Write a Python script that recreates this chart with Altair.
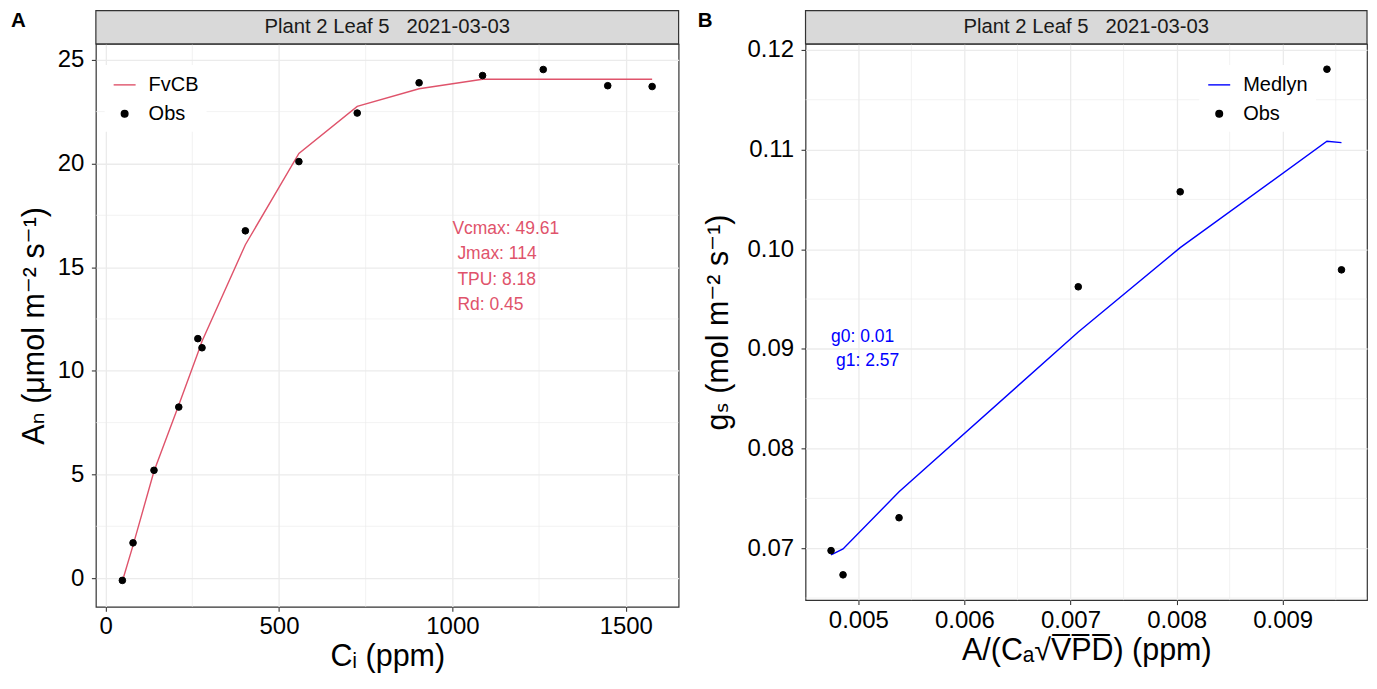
import altair as alt
import pandas as pd

# ---------------- data ----------------
strip_label = ["Plant 2 Leaf 5\u00a0\u00a0\u00a02021-03-03"]
panel_tags = ["A", "B"]

# Panel A: A/Ci curve
ci_ppm = [48.3, 79.1, 139.5, 211, 266, 278, 403, 557.4, 725.6, 904, 1087, 1262, 1448, 1576]
an_obs = [-0.11, 1.70, 5.20, 8.25, 11.55, 11.11, 16.75, 20.09, 22.43, 23.89, 24.24, 24.53, 23.75, 23.71]
an_fvcb = [-0.15, 1.58, 5.15, 8.35, 10.86, 11.42, 16.08, 20.48, 22.75, 23.60, 24.06, 24.06, 24.06, 24.06]
fvcb_params = ["Vcmax: 49.61", "Jmax: 114", "TPU: 8.18", "Rd: 0.45"]
fvcb_anchor = [1000, 15]

# Panel B: Medlyn stomatal conductance
medlyn_x = [0.004743, 0.004856, 0.005384, 0.007073, 0.008034, 0.009417, 0.009554]
gs_obs = [0.06976, 0.06733, 0.07306, 0.09623, 0.10576, 0.11806, 0.09793]
gs_medlyn = [0.06933, 0.06993, 0.07566, 0.0917, 0.10016, 0.11083, 0.1107]
medlyn_params = ["g0: 0.01", "g1: 2.57"]
medlyn_anchor = [min(medlyn_x), 0.09]

a_xticks = [0, 500, 1000, 1500]
a_xminor = [250, 750, 1250]
a_yticks = [0, 5, 10, 15, 20, 25]
a_yminor = [2.5, 7.5, 12.5, 17.5, 22.5]
b_xticks = [0.005, 0.006, 0.007, 0.008, 0.009]
b_xminor = [0.0055, 0.0065, 0.0075, 0.0085, 0.0095]
b_yticks = [0.07, 0.08, 0.09, 0.10, 0.11, 0.12]
b_yminor = [0.065, 0.075, 0.085, 0.095, 0.105, 0.115]

FONT = "Liberation Sans, DejaVu Sans"
FVCB_COL = "#DF536B"
MEDLYN_COL = "#0000FF"
GRID = "#EBEBEB"
DARK = "#333333"
STRIP_H = 33.3


def expand(vals):
    lo, hi = min(vals), max(vals)
    r = hi - lo
    return [lo - 0.05 * r, hi + 0.05 * r]


def panel(xs, yobs, yfit, model, col, xticks, yticks, xminor, yminor,
          xfmt, yfmt, xtitle, ytitle, ytitle_pad, ann_text, ann_xy, ann_lh,
          leg_x, leg_y, width, height, tag, tag_x):
    xdom = expand(xs)
    ydom = expand(list(yobs) + list(yfit))
    xsc = alt.Scale(domain=xdom, nice=False, zero=False)
    ysc = alt.Scale(domain=ydom, nice=False, zero=False)
    xenc = alt.X("x:Q", scale=xsc,
                 axis=alt.Axis(values=xticks, format=xfmt, title=xtitle,
                               labelPadding=3.5, titlePadding=3))
    yenc = alt.Y("y:Q", scale=ysc,
                 axis=alt.Axis(values=yticks, format=yfmt, title=ytitle,
                               labelPadding=7.5, titlePadding=ytitle_pad))

    fit_df = pd.DataFrame({"x": xs, "y": yfit, "series": model})
    obs_df = pd.DataFrame({"x": xs, "y": yobs, "series": "Obs"})
    gx = pd.DataFrame({"x": xminor})
    gy = pd.DataFrame({"y": yminor})

    dom = [model, "Obs"]
    leg = alt.Legend(title=None, orient="none", legendX=leg_x, legendY=leg_y)

    minor_x = alt.Chart(gx).mark_rule(color=GRID, strokeWidth=0.65).encode(x=xenc)
    minor_y = alt.Chart(gy).mark_rule(color=GRID, strokeWidth=0.65).encode(y=yenc)
    line = alt.Chart(fit_df).mark_line(strokeWidth=1.4, color=col).encode(x=xenc, y=yenc)
    pts = alt.Chart(obs_df).mark_point(filled=True, opacity=1, strokeWidth=1).encode(
        x=xenc, y=yenc,
        fill=alt.Fill("series:N", scale=alt.Scale(domain=dom, range=[col, "black"]), legend=leg),
        stroke=alt.Stroke("series:N", scale=alt.Scale(domain=dom, range=[col, "black"]), legend=leg),
        shape=alt.Shape("series:N", scale=alt.Scale(domain=dom, range=["stroke", "circle"]), legend=leg),
        size=alt.Size("series:N", scale=alt.Scale(type="ordinal", domain=dom, range=[484, 44]), legend=leg),
    )
    n = len(ann_text)
    dy0 = -(n - 1) / 2 * ann_lh
    ann_first = alt.Chart(alt.Data(values=[{}])).mark_text(
        text=ann_text[0], align="left", baseline="middle",
        fontSize=17.5, color=col, font=FONT, dy=dy0,
    ).encode(x=alt.datum(ann_xy[0]), y=alt.datum(ann_xy[1]))
    ann_rest = alt.Chart(alt.Data(values=[{}])).mark_text(
        text=ann_text[1:], align="left", baseline="middle", lineHeight=ann_lh,
        fontSize=17.5, color=col, font=FONT, dy=dy0 + ann_lh, dx=5,
    ).encode(x=alt.datum(ann_xy[0]), y=alt.datum(ann_xy[1]))

    # facet-style strip above the panel
    strip_rect = alt.Chart(alt.Data(values=[{}])).mark_rect(
        fill="#D9D9D9", stroke=DARK, strokeWidth=1.2
    ).encode(x=alt.value(0), x2=alt.value(width), y=alt.value(-STRIP_H), y2=alt.value(0))
    sdf = pd.DataFrame({"label": strip_label})
    stext = alt.Chart(sdf).mark_text(
        fontSize=20.3, color="#1A1A1A", baseline="middle", align="center", font=FONT
    ).encode(x=alt.value(width / 2), y=alt.value(-STRIP_H / 2), text="label:N")
    tdf = pd.DataFrame({"tag": [tag]})
    ttext = alt.Chart(tdf).mark_text(
        fontSize=20.5, fontWeight="bold", color="black", baseline="alphabetic", align="left", font=FONT
    ).encode(x=alt.value(tag_x), y=alt.value(-17.3), text="tag:N")

    main = alt.layer(minor_x, minor_y, line, pts, ann_first, ann_rest,
                     strip_rect, stext, ttext).properties(
        width=width, height=height,
        view=alt.ViewBackground(fill="white", stroke=DARK, strokeWidth=1.2),
    ).resolve_scale(fill="independent", stroke="independent", shape="independent", size="independent")
    return main


colA = panel(ci_ppm, an_obs, an_fvcb, "FvCB", FVCB_COL,
             a_xticks, a_yticks, a_xminor, a_yminor, "d", "d",
             "C\u1d62 (ppm)", "A\u2099 (\u03bcmol m\u207b\u00b2 s\u207b\u00b9)", 8,
             fvcb_params, fvcb_anchor, 25.3, 8.8, 21, 583.6, 563.7, panel_tags[0], -85)

colB = panel(medlyn_x, gs_obs, gs_medlyn, "Medlyn", MEDLYN_COL,
             b_xticks, b_yticks, b_xminor, b_yminor, ".3f", ".2f",
             "A/(C\u2090\u221aV\u0305P\u0305D\u0305) (ppm)", "g\u209b (mol m\u207b\u00b2 s\u207b\u00b9)", 13,
             medlyn_params, medlyn_anchor, 24, 394.3, 21, 562.3, 557, panel_tags[1], -108)

chart = alt.hconcat(colA, colB, spacing=126.7, bounds="flush").resolve_scale(
    fill="independent", stroke="independent", shape="independent", size="independent",
    x="independent", y="independent",
).resolve_legend(
    fill="independent", stroke="independent", shape="independent", size="independent"
).configure(
    font=FONT, padding={"left": 2, "top": 0.5, "right": 0, "bottom": 0}
).configure_axis(
    labelFont=FONT, labelFontSize=24, labelColor="black",
    tickColor=DARK, tickWidth=1.07, tickSize=4.5,
    domain=False, grid=True, gridColor=GRID, gridWidth=1.3,
    titleFont=FONT, titleFontSize=30.5, titleFontWeight="normal", titleColor="black",
).configure_legend(
    labelFont=FONT, labelFontSize=20, labelColor="black",
    symbolStrokeWidth=1.4, padding=8, rowPadding=9, labelOffset=12,
    fillColor="white",
).configure_view(stroke=DARK, strokeWidth=1.2)

chart.save("out.html", embed_options={"renderer": "svg", "actions": False})
